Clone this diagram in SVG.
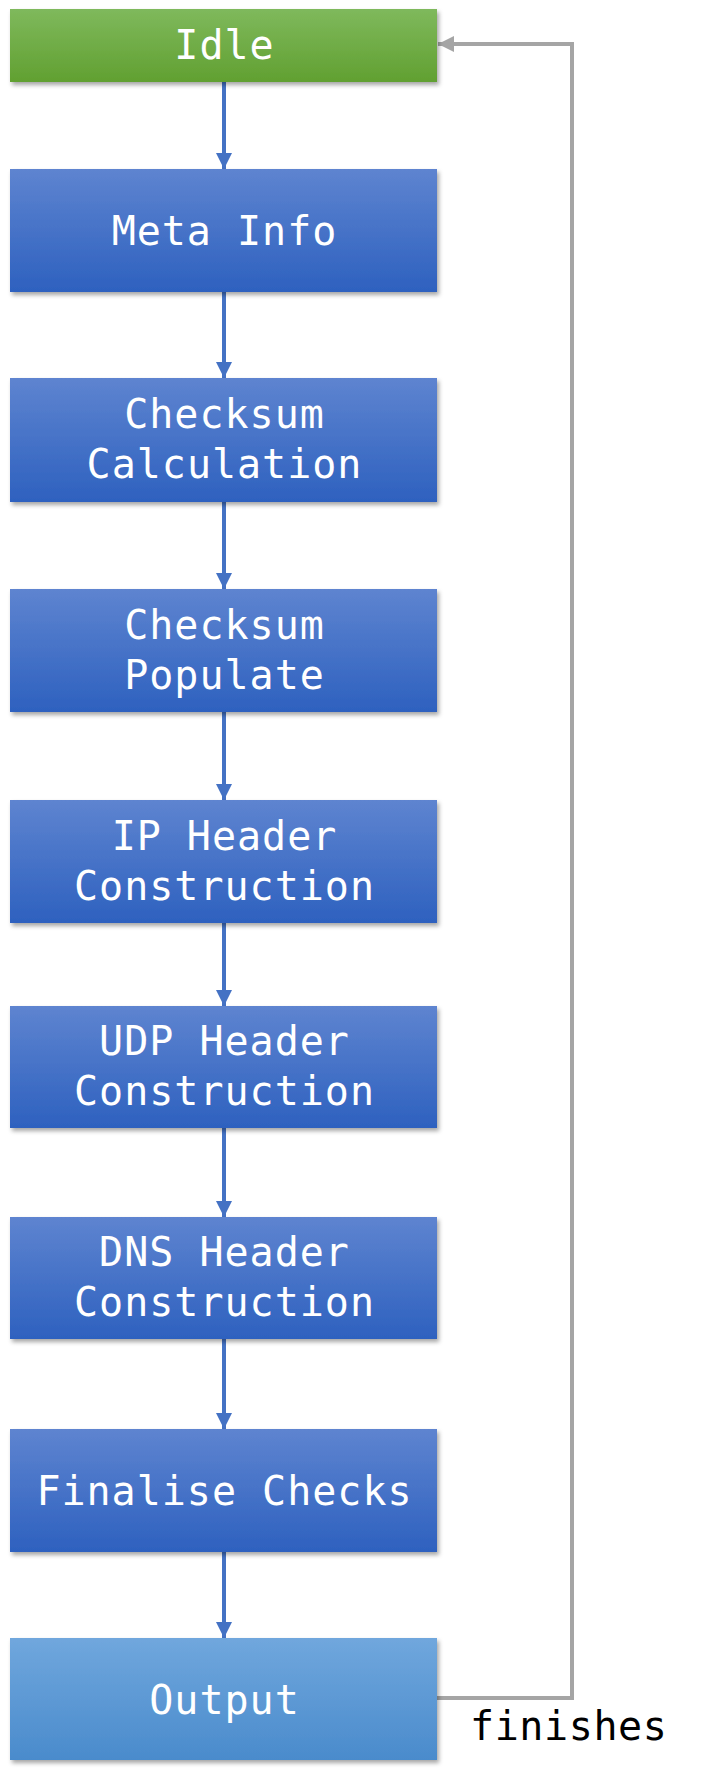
<svg xmlns="http://www.w3.org/2000/svg" width="706" height="1779" viewBox="0 0 706 1779">
<defs>
<linearGradient id="gGreen" x1="0" y1="0" x2="0" y2="1"><stop offset="0" stop-color="#7fb95c"/><stop offset="1" stop-color="#61a031"/></linearGradient>
<linearGradient id="gBlue" x1="0" y1="0" x2="0" y2="1"><stop offset="0" stop-color="#5e84d0"/><stop offset="1" stop-color="#2e61bf"/></linearGradient>
<linearGradient id="gLight" x1="0" y1="0" x2="0" y2="1"><stop offset="0" stop-color="#70a7dd"/><stop offset="1" stop-color="#4a8bcc"/></linearGradient>
<filter id="sh" x="-5%" y="-10%" width="115%" height="130%"><feDropShadow dx="2" dy="3" stdDeviation="2" flood-color="#000" flood-opacity="0.35"/></filter>
<marker id="aBlue" viewBox="0 0 10 10" refX="10" refY="5" markerWidth="4" markerHeight="4" orient="auto" markerUnits="strokeWidth"><path d="M0,0 L10,5 L0,10 z" fill="#4472c4"/></marker>
<marker id="aGray" viewBox="0 0 10 10" refX="10" refY="5" markerWidth="4" markerHeight="4" orient="auto" markerUnits="strokeWidth"><path d="M0,0 L10,5 L0,10 z" fill="#a5a5a5"/></marker>
</defs>
<style>
.box{filter:url(#sh)}
.t{font-family:"DejaVu Sans Mono","Liberation Mono",monospace;font-size:40px;letter-spacing:1px;fill:#fff;text-anchor:middle}
.c{stroke:#4472c4;stroke-width:4;fill:none;marker-end:url(#aBlue)}
.g{stroke:#a5a5a5;stroke-width:4;fill:none;marker-end:url(#aGray)}
.lbl{font-family:"DejaVu Sans Mono","Liberation Mono",monospace;font-size:40px;letter-spacing:0.6px;fill:#000}
</style>
<g id="connectors">
<line class="c" x1="224" y1="82" x2="224" y2="169"/>
<line class="c" x1="224" y1="292" x2="224" y2="378"/>
<line class="c" x1="224" y1="502" x2="224" y2="589"/>
<line class="c" x1="224" y1="712" x2="224" y2="800"/>
<line class="c" x1="224" y1="923" x2="224" y2="1006"/>
<line class="c" x1="224" y1="1128" x2="224" y2="1217"/>
<line class="c" x1="224" y1="1339" x2="224" y2="1429"/>
<line class="c" x1="224" y1="1552" x2="224" y2="1638"/>
<path class="g" d="M437,1698 H572 V44 H438"/>
<text class="lbl" x="470" y="1740">finishes</text>
</g>
<g id="idle"><rect class="box" x="10" y="9" width="427" height="73" fill="url(#gGreen)"/><text class="t" x="224.5" y="59">Idle</text></g>
<g id="meta"><rect class="box" x="10" y="169" width="427" height="123" fill="url(#gBlue)"/><text class="t" x="224.5" y="245">Meta Info</text></g>
<g id="calc"><rect class="box" x="10" y="378" width="427" height="124" fill="url(#gBlue)"/><text class="t" x="224.5" y="428">Checksum</text><text class="t" x="224.5" y="478">Calculation</text></g>
<g id="populate"><rect class="box" x="10" y="589" width="427" height="123" fill="url(#gBlue)"/><text class="t" x="224.5" y="639">Checksum</text><text class="t" x="224.5" y="689">Populate</text></g>
<g id="ip"><rect class="box" x="10" y="800" width="427" height="123" fill="url(#gBlue)"/><text class="t" x="224.5" y="850">IP Header</text><text class="t" x="224.5" y="900">Construction</text></g>
<g id="udp"><rect class="box" x="10" y="1006" width="427" height="122" fill="url(#gBlue)"/><text class="t" x="224.5" y="1055">UDP Header</text><text class="t" x="224.5" y="1105">Construction</text></g>
<g id="dns"><rect class="box" x="10" y="1217" width="427" height="122" fill="url(#gBlue)"/><text class="t" x="224.5" y="1266">DNS Header</text><text class="t" x="224.5" y="1316">Construction</text></g>
<g id="finalise"><rect class="box" x="10" y="1429" width="427" height="123" fill="url(#gBlue)"/><text class="t" x="224.5" y="1505">Finalise Checks</text></g>
<g id="output"><rect class="box" x="10" y="1638" width="427" height="122" fill="url(#gLight)"/><text class="t" x="224.5" y="1714">Output</text></g>
</svg>
